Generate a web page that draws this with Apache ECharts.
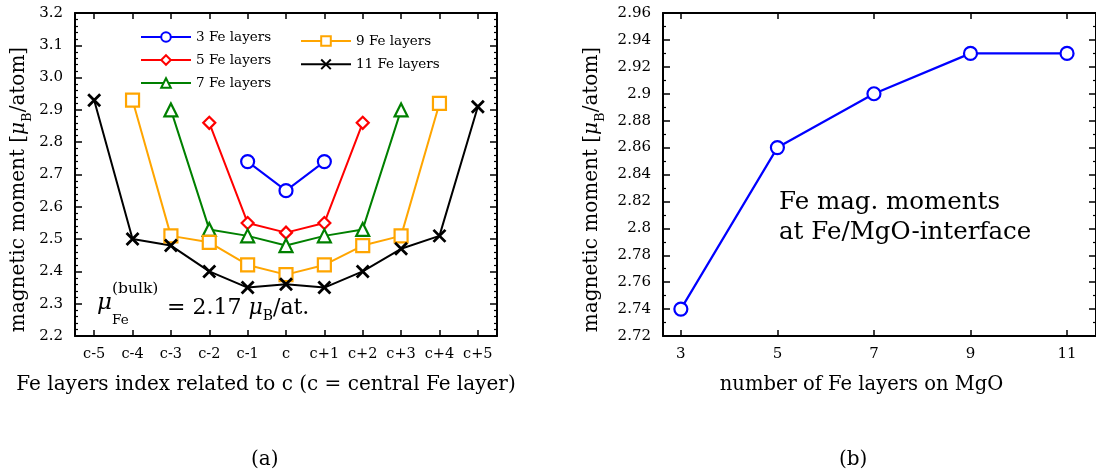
<!DOCTYPE html>
<html>
<head>
<meta charset="utf-8">
<script src="https://cdn.jsdelivr.net/npm/echarts@6/dist/echarts.min.js"></script>
<style>html,body{margin:0;padding:0;background:#fff}#c{width:1096px;height:473px}</style>
</head>
<body>
<div id="c"></div>
<script>
// ---- data (panel a) ----
const layerIdx = ['c-5','c-4','c-3','c-2','c-1','c','c+1','c+2','c+3','c+4','c+5'];
const fe3  = [null,null,null,null,2.74,2.65,2.74,null,null,null,null];
const fe5  = [null,null,null,2.86,2.55,2.52,2.55,2.86,null,null,null];
const fe7  = [null,null,2.90,2.53,2.51,2.48,2.51,2.53,2.90,null,null];
const fe9  = [null,2.93,2.51,2.49,2.42,2.39,2.42,2.48,2.51,2.92,null];
const fe11 = [2.93,2.50,2.48,2.40,2.35,2.36,2.35,2.40,2.47,2.51,2.91];
// ---- data (panel b) ----
const nLayers = [3,5,7,9,11];
const interfaceMoment = [2.74,2.86,2.90,2.93,2.93];
const bTicks = [3,5,7,9,11];

const FONT = 'DejaVu Serif';
const crossPath = 'path://M0,0L10,10M0,10L10,0';

const frameLine = {show:true, onZero:false, lineStyle:{color:'#000', width:2}};
const tickIn = (len)=>({show:true, inside:true, length:len, lineStyle:{color:'#000', width:1.5}});
const minorIn = {show:true, length:3, splitNumber:5, lineStyle:{color:'#000', width:1.2}};
const yName = {color:'#000', fontFamily:FONT, fontSize:20, padding:[0,30,0,0],
  rich:{mu:{fontFamily:FONT, fontSize:20, fontStyle:'italic', color:'#000'},
        sub:{fontFamily:FONT, fontSize:13, color:'#000', verticalAlign:'bottom', lineHeight:30}}};

function lineSeries(name, data, color, symbol, extra){
  return Object.assign({
    name, type:'line', data, xAxisIndex:0, yAxisIndex:0,
    symbol, symbolSize:12, showSymbol:true, connectNulls:false,
    lineStyle:{color, width:2}, itemStyle:{color:'#fff', borderColor:color, borderWidth:2.2},
    emphasis:{disabled:true}, z:3
  }, extra||{});
}

const chart = echarts.init(document.getElementById('c'), null, {renderer:'canvas'});
const option = {
  animation:false,
  backgroundColor:'#fff',
  textStyle:{fontFamily:FONT},
  grid:[
    {left:75, top:13, width:422, height:323},
    {left:663, top:13, width:436, height:323}
  ],
  xAxis:[
    {type:'category', data:layerIdx, gridIndex:0, boundaryGap:true, position:'bottom',
     axisLine:frameLine, axisTick:Object.assign(tickIn(6),{alignWithLabel:true, interval:0}),
     axisLabel:{color:'#000', fontFamily:FONT, fontSize:14.5, margin:11, interval:0},
     splitLine:{show:false},
     name:'Fe layers index related to c (c = central Fe layer)', nameLocation:'middle', nameGap:39,
     nameTextStyle:{color:'#000', fontFamily:FONT, fontSize:20, padding:[0,40,0,0]}},
    {type:'category', data:layerIdx, gridIndex:0, boundaryGap:true, position:'top',
     axisLine:frameLine, axisTick:Object.assign(tickIn(6),{alignWithLabel:true, interval:0}),
     axisLabel:{show:false}, splitLine:{show:false}},
    {type:'value', gridIndex:1, min:2.63, max:11.6, position:'bottom',
     axisLine:frameLine, axisTick:Object.assign(tickIn(6),{customValues:bTicks}),
     axisLabel:{color:'#000', fontFamily:FONT, fontSize:15, margin:11, customValues:bTicks},
     splitLine:{show:false},
     name:'number of Fe layers on MgO', nameLocation:'middle', nameGap:39,
     nameTextStyle:{color:'#000', fontFamily:FONT, fontSize:19.5, padding:[0,36,0,0]}},
    {type:'value', gridIndex:1, min:2.63, max:11.6, position:'top',
     axisLine:frameLine, axisTick:Object.assign(tickIn(6),{customValues:bTicks}),
     axisLabel:{show:false}, splitLine:{show:false}}
  ],
  yAxis:[
    {type:'value', gridIndex:0, min:2.2, max:3.2, interval:0.1, position:'left',
     axisLine:frameLine, axisTick:tickIn(7), minorTick:minorIn,
     axisLabel:{color:'#000', fontFamily:FONT, fontSize:15, margin:12, formatter:v=>v.toFixed(1)},
     splitLine:{show:false},
     name:'magnetic moment [{mu|μ}{sub|B}/atom]', nameLocation:'middle', nameGap:41,
     nameTextStyle:yName},
    {type:'value', gridIndex:0, min:2.2, max:3.2, interval:0.1, position:'right',
     axisLine:frameLine, axisTick:tickIn(7), minorTick:minorIn,
     axisLabel:{show:false}, splitLine:{show:false}},
    {type:'value', gridIndex:1, min:2.72, max:2.96, interval:0.02, position:'left',
     axisLine:frameLine, axisTick:tickIn(7), minorTick:Object.assign({},minorIn,{splitNumber:2}),
     axisLabel:{color:'#000', fontFamily:FONT, fontSize:15, margin:12},
     splitLine:{show:false},
     name:'magnetic moment [{mu|μ}{sub|B}/atom]', nameLocation:'middle', nameGap:56,
     nameTextStyle:yName},
    {type:'value', gridIndex:1, min:2.72, max:2.96, interval:0.02, position:'right',
     axisLine:frameLine, axisTick:tickIn(7), minorTick:Object.assign({},minorIn,{splitNumber:2}),
     axisLabel:{show:false}, splitLine:{show:false}}
  ],
  legend:[
    {data:['3 Fe layers','5 Fe layers','7 Fe layers'], orient:'vertical', left:135, top:25,
     itemWidth:50, itemHeight:12, itemGap:9, textStyle:{color:'#000', fontFamily:FONT, fontSize:13.5}},
    {data:['9 Fe layers','11 Fe layers'], orient:'vertical', left:295, top:29,
     itemWidth:50, itemHeight:12, itemGap:9, textStyle:{color:'#000', fontFamily:FONT, fontSize:13.5}}
  ],
  series:[
    lineSeries('3 Fe layers', fe3, '#0000ff', 'circle', {symbolSize:13}),
    lineSeries('5 Fe layers', fe5, '#ff0000', 'diamond', {symbolSize:12}),
    lineSeries('7 Fe layers', fe7, '#008000', 'triangle', {symbolSize:13}),
    lineSeries('9 Fe layers', fe9, '#ffa500', 'rect', {symbolSize:13}),
    lineSeries('11 Fe layers', fe11, '#000000', crossPath, {symbolSize:12,
       itemStyle:{color:'none', borderColor:'#000', borderWidth:2.8}}),
    {name:'interface', type:'line', data:nLayers.map((n,i)=>[n, interfaceMoment[i]]),
     xAxisIndex:2, yAxisIndex:2, symbol:'circle', symbolSize:13,
     lineStyle:{color:'#0000ff', width:2.2}, itemStyle:{color:'#fff', borderColor:'#0000ff', borderWidth:2.2},
     emphasis:{disabled:true}}
  ],
  graphic:[
    {type:'text', left:97, top:292, style:{text:'μ', font:'italic 23px "DejaVu Serif"', fill:'#000'}},
    {type:'text', left:112, top:281, style:{text:'(bulk)', font:'15.5px "DejaVu Serif"', fill:'#000'}},
    {type:'text', left:112, top:313, style:{text:'Fe', font:'13.5px "DejaVu Serif"', fill:'#000'}},
    {type:'text', left:167, top:297, style:{
      text:'= 2.17 {mu|μ}{s|B}/at.',
      font:'22px "DejaVu Serif"', fill:'#000',
      rich:{mu:{font:'italic 22px "DejaVu Serif"', fill:'#000'},
            s:{font:'14px "DejaVu Serif"', fill:'#000', verticalAlign:'bottom', lineHeight:31}}}},
    {type:'text', left:779, top:188, style:{
      text:'Fe mag. moments\nat Fe/MgO-interface', font:'24.5px "DejaVu Serif"', lineHeight:30, fill:'#000'}},
    {type:'text', left:251, top:450, style:{text:'(a)', font:'20px "DejaVu Serif"', fill:'#000', align:'center', verticalAlign:'middle'}},
    {type:'text', left:839, top:450, style:{text:'(b)', font:'20px "DejaVu Serif"', fill:'#000', align:'center', verticalAlign:'middle'}}
  ]
};
chart.setOption(option);
</script>
</body>
</html>
